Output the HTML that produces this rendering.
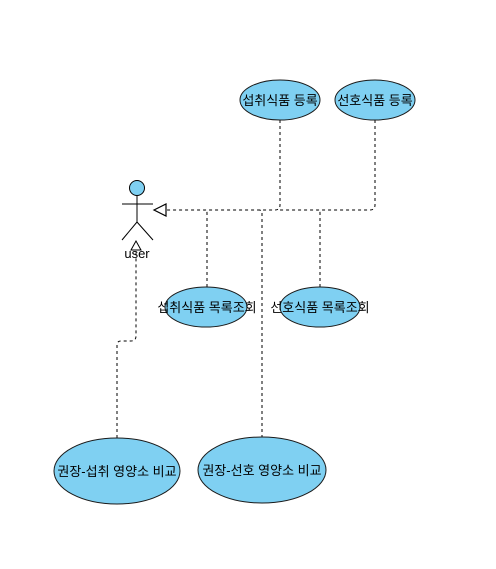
<!DOCTYPE html>
<html><head><meta charset="utf-8"><style>
html,body{margin:0;padding:0;background:#fff;width:496px;height:569px;overflow:hidden}
text{font-family:"Liberation Sans","Noto Sans CJK KR",sans-serif;font-size:13px;fill:#000}
</style></head><body>
<svg width="496" height="569" viewBox="0 0 496 569">
<g fill="none" stroke="#000" stroke-width="1" stroke-dasharray="3,3">
<path d="M280 120 V205 Q280 210 275 210 H166"/>
<path d="M375 120 V205 Q375 210 370 210 H280"/>
<path d="M207 287 V213 Q207 210 204 210"/>
<path d="M320 287 V213 Q320 210 317 210"/>
<path d="M262 438 V213 Q262 210 259 210"/>
<path d="M117 438 V345 Q117 341 121 341 H131 Q136 341 136 336 V250"/>
</g>
<polygon points="154,210 166,204 166,216" fill="#fff" stroke="#000" stroke-width="1.2"/>
<g stroke="#000" stroke-width="1" fill="none">
<circle cx="137" cy="188" r="7.5" fill="#7fd0f2"/>
<line x1="137" y1="196" x2="137" y2="222"/>
<line x1="122" y1="204" x2="153" y2="204"/>
<line x1="137" y1="222" x2="122" y2="240"/>
<line x1="137" y1="222" x2="153" y2="240"/>
</g>
<polygon points="136,241 131,250 141,250" fill="#fff" stroke="#000" stroke-width="1"/>
<text x="137" y="258" text-anchor="middle">user</text>
<g stroke="#1a1a1a" stroke-width="1" fill="#7fd0f2">
<ellipse cx="280" cy="100" rx="40" ry="20"/>
<ellipse cx="375" cy="100" rx="40" ry="20"/>
<ellipse cx="206" cy="307" rx="41" ry="20"/>
<ellipse cx="320" cy="307" rx="40" ry="20"/>
<ellipse cx="117" cy="471" rx="63" ry="33"/>
<ellipse cx="262" cy="470" rx="64" ry="33"/>
</g>
<text x="280" y="105" text-anchor="middle">섭취식품 등록</text>
<text x="375" y="105" text-anchor="middle">선호식품 등록</text>
<text x="207" y="312" text-anchor="middle">섭취식품 목록조회</text>
<text x="320" y="312" text-anchor="middle">선호식품 목록조회</text>
<text x="117" y="476" text-anchor="middle">권장-섭취 영양소 비교</text>
<text x="262" y="475" text-anchor="middle">권장-선호 영양소 비교</text>
</svg>
</body></html>
